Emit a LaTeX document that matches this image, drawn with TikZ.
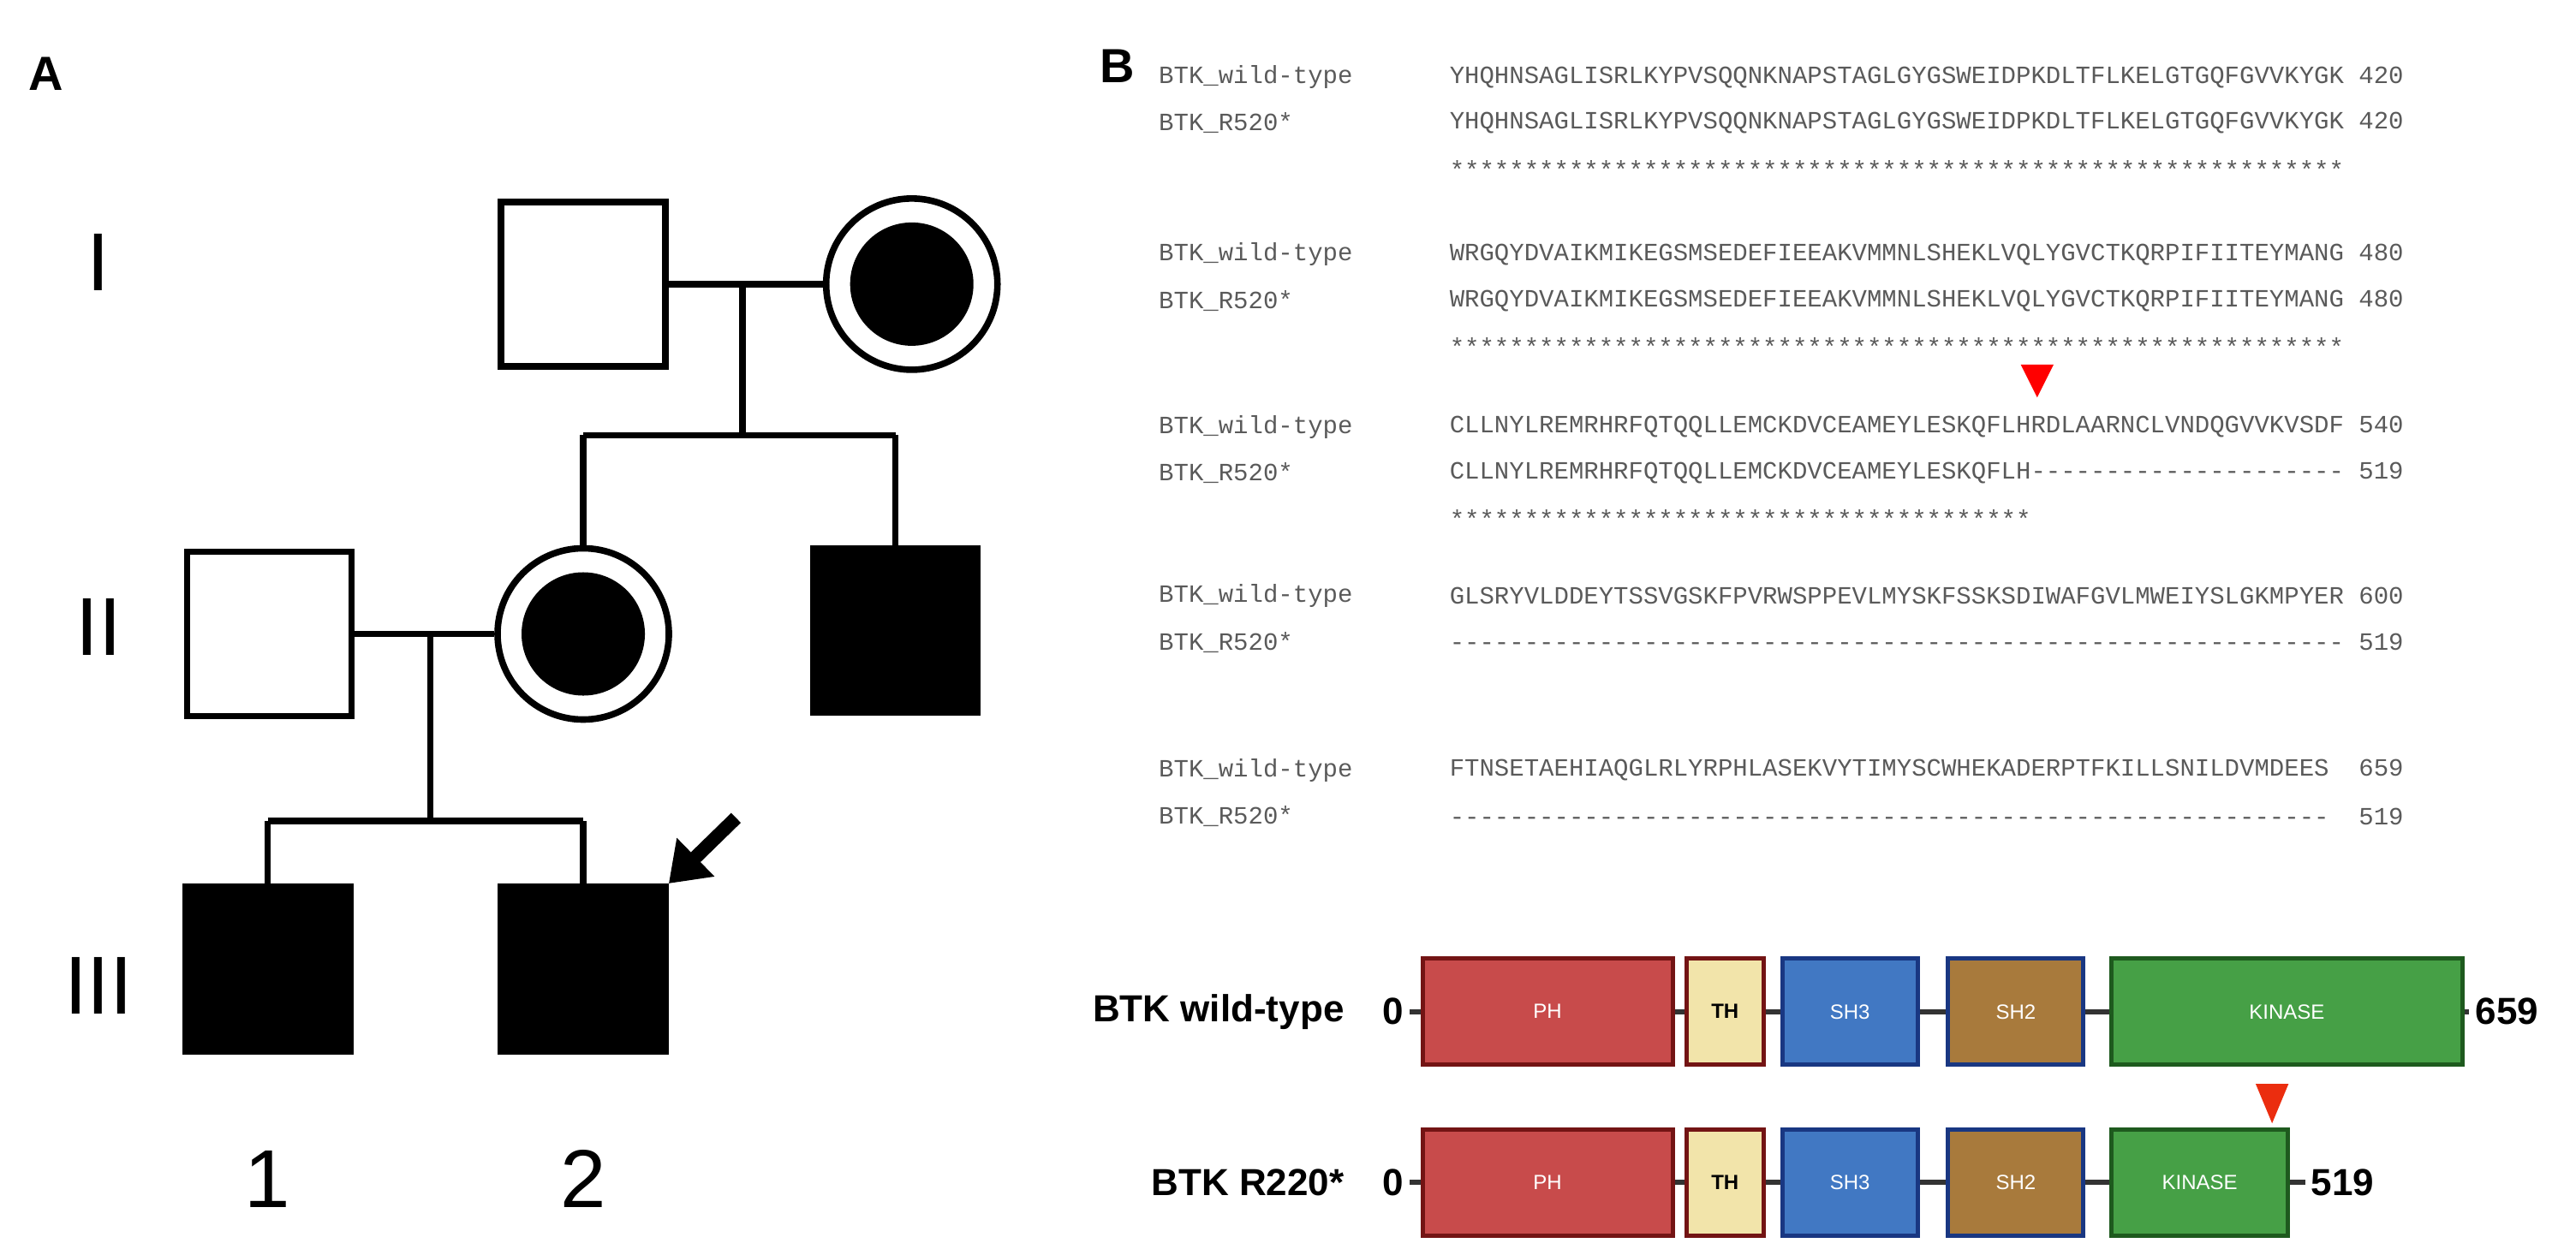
\documentclass[tikz,border=0pt]{standalone}
\usepackage{fontspec}
\setmainfont{Liberation Sans}
\setmonofont{Liberation Mono}
\usetikzlibrary{positioning,arrows.meta}
\definecolor{seqgray}{RGB}{90,90,90}
\definecolor{phfill}{RGB}{200,75,75}
\definecolor{phdraw}{RGB}{115,20,20}
\definecolor{thfill}{RGB}{242,228,170}
\definecolor{shfill}{RGB}{65,120,195}
\definecolor{shdraw}{RGB}{25,55,130}
\definecolor{sbfill}{RGB}{168,122,60}
\definecolor{kinfill}{RGB}{70,160,70}
\definecolor{kindraw}{RGB}{30,90,30}
\definecolor{mutred}{RGB}{235,45,15}
\tikzset{every picture/.style={line width=0.75pt}}
\tikzset{
  male/.style={draw,line width=3.8pt,minimum size=96pt,inner sep=0pt},
  affected/.style={male,fill=black},
  carrier/.style={circle,draw,line width=3.8pt,minimum size=100pt,inner sep=0pt,
    path picture={\fill[black] (path picture bounding box.center) circle (36pt);}},
  kin/.style={line width=3.8pt},
  gen/.style={font=\fontsize{48}{50}\selectfont},
  panel/.style={font=\fontsize{28}{30}\selectfont\bfseries},
  seq/.style={anchor=west,inner sep=0pt,text=seqgray,font=\ttfamily\fontsize{14.5}{16}\selectfont},
  dom/.style={draw,line width=2.5pt,minimum height=62pt,inner sep=0pt,text=white,font=\fontsize{12}{13}\selectfont},
  link/.style={line width=3pt,black!80},
  lab/.style={font=\fontsize{22}{24}\selectfont\bfseries},
}
\begin{document}
\begin{tikzpicture}[x=0.959pt,y=0.959pt,yscale=-1,xscale=1]
\useasboundingbox (0,0) rectangle (1568,764);

% Panel A: pedigree
\node[panel] (labA) at (28,45) {A};
\node[gen] (genI) at (60,160) {I};
\node[gen] (genII) at (60,382) {II};
\node[gen] (genIII) at (60,600) {III};
\node[gen] (numA) at (163,718) {1};
\node[gen] (numB) at (355,718) {2};

\node[male] (grandpa) at (355,173) {};
\node[carrier] (grandma) at (555,173) {};
\node[male] (father) at (164,386) {};
\node[carrier] (mother) at (355,386) {};
\node[affected] (uncle) at (545,384) {};
\node[affected] (son1) at (163,590) {};
\node[affected] (son2) at (355,590) {};

\coordinate (matI) at (452,173);
\coordinate (sibI) at (452,265);
\coordinate (matII) at (262,386);
\coordinate (sibII) at (262,500);
\draw[kin] (grandpa) -- (grandma);
\draw[kin] (matI) -- (sibI);
\draw[kin] (mother.north |- sibI) -- (uncle.north |- sibI);
\draw[kin] (mother.north |- sibI) -- (mother.north);
\draw[kin] (uncle.north |- sibI) -- (uncle.north);
\draw[kin] (father) -- (mother);
\draw[kin] (matII) -- (sibII);
\draw[kin] (son1.north |- sibII) -- (son2.north |- sibII);
\draw[kin] (son1.north |- sibII) -- (son1.north);
\draw[kin] (son2.north |- sibII) -- (son2.north);

\coordinate (proband) at (448,498);
\draw[line width=8pt,-{Triangle[length=22pt,width=30pt]}] (proband) -- (son2.north east);

% Panel B: alignment
\node[panel] (labB) at (680,40) {B};
\foreach \y/\nm/\s in {
  47/BTK\_wild-type/YHQHNSAGLISRLKYPVSQQNKNAPSTAGLGYGSWEIDPKDLTFLKELGTGQFGVVKYGK 420,
  75/BTK\_R520*/YHQHNSAGLISRLKYPVSQQNKNAPSTAGLGYGSWEIDPKDLTFLKELGTGQFGVVKYGK 420,
  103//************************************************************,
  155/BTK\_wild-type/WRGQYDVAIKMIKEGSMSEDEFIEEAKVMMNLSHEKLVQLYGVCTKQRPIFIITEYMANG 480,
  183/BTK\_R520*/WRGQYDVAIKMIKEGSMSEDEFIEEAKVMMNLSHEKLVQLYGVCTKQRPIFIITEYMANG 480,
  211//************************************************************,
  260/BTK\_wild-type/CLLNYLREMRHRFQTQQLLEMCKDVCEAMEYLESKQFLHRDLAARNCLVNDQGVVKVSDF 540,
  288/BTK\_R520*/CLLNYLREMRHRFQTQQLLEMCKDVCEAMEYLESKQFLH--------------------- 519,
  316//***************************************,
  363/BTK\_wild-type/GLSRYVLDDEYTSSVGSKFPVRWSPPEVLMYSKFSSKSDIWAFGVLMWEIYSLGKMPYER 600,
  391/BTK\_R520*/------------------------------------------------------------ 519,
  469/BTK\_wild-type/FTNSETAEHIAQGLRLYRPHLASEKVYTIMYSCWHEKADERPTFKILLSNILDVMDEES\ \ 659,
  497/BTK\_R520*/-----------------------------------------------------------\ \ 519}
{
  \node[seq] (nm\y) at (705,\y) {\nm};
  \node[seq] (sq\y) at (882,\y) {\s};
}
\fill[red] (1230,222) -- (1250,222) -- (1240,242) -- cycle;

% domain maps
\node[lab,anchor=east] (wtlab) at (822,616) {BTK wild-type};
\node[lab,anchor=east] (mtlab) at (822,720) {BTK R220*};
\node[lab] (wtzero) at (848,616) {0};
\node[lab] (mtzero) at (848,720) {0};
\foreach \rw/\yy in {wt/616,mt/720}{
  \node[dom,fill=phfill,draw=phdraw,minimum width=146pt] (ph\rw) at (942,\yy) {PH};
  \node[dom,fill=thfill,draw=phdraw,minimum width=45pt,text=black,font=\fontsize{12}{13}\selectfont\bfseries] (th\rw) at (1050,\yy) {TH};
  \node[dom,fill=shfill,draw=shdraw,minimum width=79pt] (shthree\rw) at (1126,\yy) {SH3};
  \node[dom,fill=sbfill,draw=shdraw,minimum width=79pt] (shtwo\rw) at (1227,\yy) {SH2};
  \draw[link] (\rw zero.east) -- (ph\rw);
  \draw[link] (ph\rw) -- (th\rw);
  \draw[link] (th\rw) -- (shthree\rw);
  \draw[link] (shthree\rw) -- (shtwo\rw);
}
\node[dom,fill=kinfill,draw=kindraw,minimum width=205pt] (kinwt) at (1392,616) {KINASE};
\node[dom,fill=kinfill,draw=kindraw,minimum width=103pt] (kinmt) at (1339,720) {KINASE};
\node[lab,anchor=west] (wtend) at (1503,616) {659};
\node[lab,anchor=west] (mtend) at (1403,720) {519};
\draw[link] (shtwowt) -- (kinwt);
\draw[link] (shtwomt) -- (kinmt);
\draw[link] (kinwt) -- (wtend);
\draw[link] (kinmt) -- (mtend);
\fill[mutred] (1373,660) -- (1393,660) -- (1383,684) -- cycle;

\end{tikzpicture}
\end{document}
